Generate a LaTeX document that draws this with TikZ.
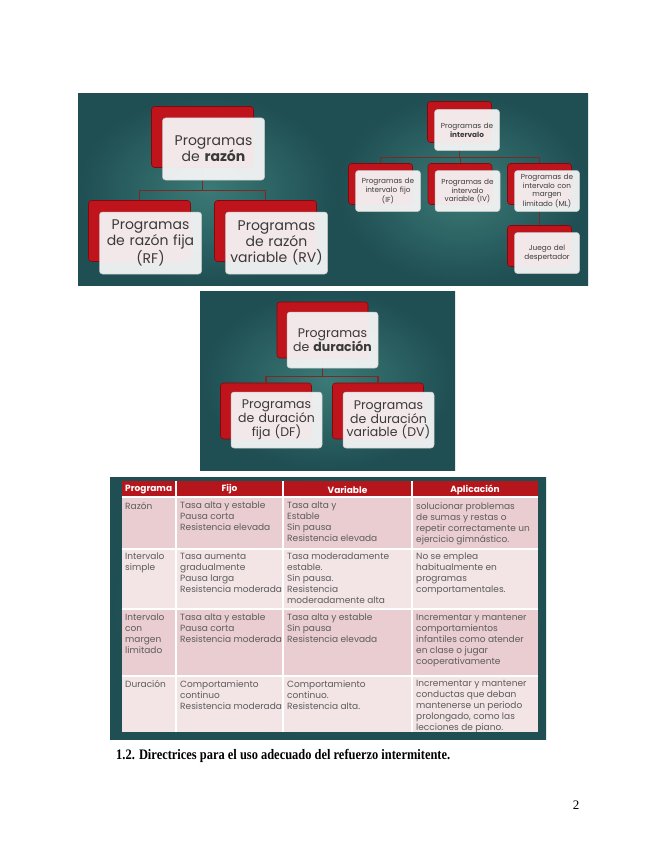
\documentclass[tikz,border=0pt]{standalone}
\usepackage{fontspec}
\usepackage{graphicx}
\setmainfont{Poppins}
\newfontfamily\serifh{Liberation Serif}
\definecolor{tealA}{HTML}{3B7A76}
\definecolor{tealB}{HTML}{1F4E53}
\definecolor{boxred}{HTML}{C0141C}
\definecolor{boxedge}{HTML}{7E0A0E}
\definecolor{linkred}{HTML}{7A2A24}
\definecolor{txt}{HTML}{3A3A3A}
\definecolor{hdrred}{HTML}{B5161C}
\definecolor{rowA}{HTML}{E9CDD0}
\definecolor{rowB}{HTML}{F3E4E6}
\definecolor{tabtxt}{HTML}{5C5C5C}
\tikzset{
  panel/.style={inner color=tealA, outer color=tealB},
  redbox/.style={draw=boxedge, fill=boxred, rounded corners=3pt, inner sep=0pt, line width=0.6pt},
  whitebox/.style={draw=gray!45, fill=white!93!gray, fill opacity=0.94, text opacity=1,
    rounded corners=3pt, inner sep=0pt, align=center, text=txt, line width=0.5pt},
  link/.style={draw=linkred, line width=1.1pt},
  bigr/.style={redbox, minimum width=102pt, minimum height=61pt},
  bigw/.style={whitebox, minimum width=102pt, minimum height=62pt, text width=100pt,
    font=\fontsize{14}{16}\selectfont},
  smr/.style={redbox, minimum width=64pt, minimum height=41pt},
  smw/.style={whitebox, minimum width=65pt, minimum height=41pt, text width=63pt,
    font=\fontsize{7.3}{8.7}\selectfont},
  midr/.style={redbox, minimum width=91pt, minimum height=56pt},
  midw/.style={whitebox, minimum width=91pt, minimum height=56pt, text width=89pt,
    font=\fontsize{12.5}{13.8}\selectfont},
  cell/.style={anchor=north west, inner sep=0pt, align=left, text=tabtxt,
    font=\fontsize{9}{11}\selectfont},
  hcell/.style={inner sep=0pt, text=white, font=\bfseries\fontsize{9}{11}\selectfont},
  sep/.style={draw=white, line width=1.2pt}
}
\begin{document}
\begin{tikzpicture}[x=1pt,y=-1pt]
\useasboundingbox[fill=white] (0,0) rectangle (655,848);

% ---------- panel 1 : razon ----------
\shade[panel] (78,94) rectangle (337,285);
\node[bigr] (t1r) at (202.5,137) {};
\node[bigr] (c1r) at (139.5,231) {};
\node[bigr] (c2r) at (265.5,231) {};
\draw[link] (t1r.south) -- ++(0,23) -| (c1r.north);
\draw[link] (t1r.south) -- ++(0,23) -| (c2r.north);
\node[bigw] (t1w) at (213.5,149) {Programas\\de \textbf{razón}};
\node[bigw] (c1w) at (150.5,243) {Programas\\de razón fija\\(RF)};
\node[bigw] (c2w) at (276.5,243) {Programas\\de razón\\variable (RV)};

% ---------- panel 2 : intervalo ----------
\shade[panel] (337,94) rectangle (588,285);
\node[smr] (t2r) at (459.5,122) {};
\node[smr] (iar) at (380.5,184) {};
\node[smr] (ibr) at (460,184) {};
\node[smr] (icr) at (539.5,184) {};
\node[smr] (idr) at (539.5,246) {};
\draw[link, line width=0.8pt] (t2r.south) -- ++(0,14.5) -| (iar.north);
\draw[link, line width=0.8pt] (t2r.south) -- ++(0,14.5) -| (ibr.north);
\draw[link, line width=0.8pt] (t2r.south) -- ++(0,14.5) -| (icr.north);
\draw[link, line width=0.8pt] (icr.south) -- (idr.north);
\node[smw] (t2w) at (467,130) {Programas de\\\textbf{intervalo}};
\node[smw] (iaw) at (388,191) {Programas de\\intervalo fijo\\(IF)};
\node[smw] (ibw) at (467.5,191) {Programas de\\intervalo\\variable (IV)};
\node[smw] (icw) at (547,191) {Programas de\\intervalo con\\margen\\limitado (ML)};
\node[smw] (idw) at (547,253) {Juego del\\despertador};

% ---------- panel 3 : duracion ----------
\shade[panel] (200,291) rectangle (455,470);
\node[midr] (t3r) at (322.5,330) {};
\node[midr] (d1r) at (266,411) {};
\node[midr] (d2r) at (378,411) {};
\draw[link] (t3r.south) -- ++(0,18) -| (d1r.north);
\draw[link] (t3r.south) -- ++(0,18) -| (d2r.north);
\node[midw] (t3w) at (332.5,340) {Programas\\de \textbf{duración}};
\node[midw] (d1w) at (276.5,420) {Programas\\de duración\\fija (DF)};
\node[midw] (d2w) at (388.5,420) {Programas\\de duración\\variable (DV)};

% ---------- table ----------
\shade[panel] (110,477) rectangle (546,739);
\fill[hdrred] (122,481) rectangle (538,497);
\fill[rowA] (122,497) rectangle (538,549);
\fill[rowB] (122,549) rectangle (538,609);
\fill[rowA] (122,609) rectangle (538,676);
\fill[rowB] (122,676) rectangle (538,732);
\foreach \xx in {176,283,412} \draw[sep] (\xx,481) -- (\xx,732);
\foreach \yy in {497,549,609,676} \draw[sep] (122,\yy) -- (538,\yy);

\node[hcell, anchor=west] (h1) at (125,489.5) {Programa};
\node[hcell] (h2) at (229.5,489.5) {Fijo};
\node[hcell] (h3) at (347.5,489.5) {Variable};
\node[hcell] (h4) at (475,489.5) {Aplicación};

\node[cell] (a1) at (125,502) {Razón};
\node[cell] (a2) at (180,502) {Tasa alta y estable\\Pausa corta\\Resistencia elevada};
\node[cell] (a3) at (287,502) {Tasa alta y\\Estable\\Sin pausa\\Resistencia elevada};
\node[cell] (a4) at (416,502) {solucionar problemas\\de sumas y restas o\\repetir correctamente un\\ejercicio gimnástico.};

\node[cell] (b1) at (125,553) {Intervalo\\simple};
\node[cell] (b2) at (180,553) {Tasa aumenta\\gradualmente\\Pausa larga\\Resistencia moderada};
\node[cell] (b3) at (287,553) {Tasa moderadamente\\estable.\\Sin pausa.\\Resistencia\\moderadamente alta};
\node[cell] (b4) at (416,553) {No se emplea\\habitualmente en\\programas\\comportamentales.};

\node[cell] (c1) at (125,614) {Intervalo\\con\\margen\\limitado};
\node[cell] (c2) at (180,614) {Tasa alta y estable\\Pausa corta\\Resistencia moderada};
\node[cell] (c3) at (287,614) {Tasa alta y estable\\Sin pausa\\Resistencia elevada};
\node[cell] (c4) at (416,614) {Incrementar y mantener\\comportamientos\\infantiles como atender\\en clase o jugar\\cooperativamente};

\node[cell] (e1) at (125,680) {Duración};
\node[cell] (e2) at (180,680) {Comportamiento\\continuo\\Resistencia moderada};
\node[cell] (e3) at (287,680) {Comportamiento\\continuo.\\Resistencia alta.};
\node[cell] (e4) at (416,680) {Incrementar y mantener\\conductas que deban\\mantenerse un periodo\\prolongado, como las\\lecciones de piano.};

% ---------- heading & page number ----------
\node[anchor=base west, inner sep=0pt, font=\serifh\bfseries\fontsize{14.5}{17}\selectfont] (head) at (116,759)
  {\resizebox{334pt}{\height}{1.2. Directrices para el uso adecuado del refuerzo intermitente.}};
\node[anchor=base, inner sep=0pt, font=\serifh\fontsize{13}{15}\selectfont] (pnum) at (576,809) {2};
\end{tikzpicture}
\end{document}
